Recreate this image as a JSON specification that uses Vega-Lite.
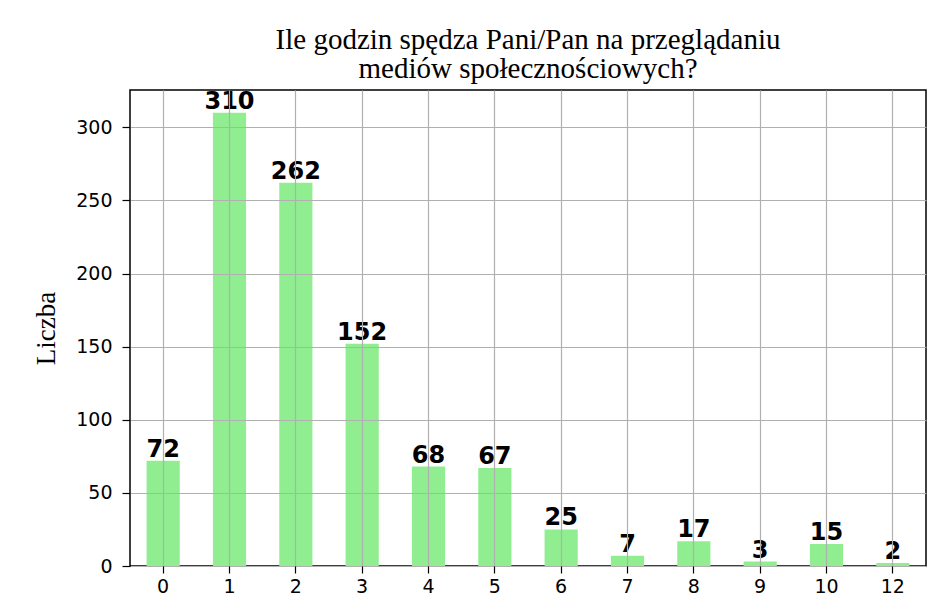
{
  "$schema": "https://vega.github.io/schema/vega-lite/v6.json",
  "width": 796,
  "height": 476,
  "autosize": "none",
  "padding": {"left": 130, "top": 90, "right": 11, "bottom": 44},
  "background": "white",
  "title": {
    "text": ["Ile godzin spędza Pani/Pan na przeglądaniu", "mediów społecznościowych?"],
    "font": "Liberation Serif",
    "fontSize": 29,
    "fontWeight": "normal",
    "color": "black",
    "lineHeight": 29,
    "anchor": "middle",
    "frame": "group",
    "offset": 6
  },
  "data": {
    "values": [
      {"h": "0", "n": 72, "o": 0},
      {"h": "1", "n": 310, "o": 1},
      {"h": "2", "n": 262, "o": 2},
      {"h": "3", "n": 152, "o": 3},
      {"h": "4", "n": 68, "o": 4},
      {"h": "5", "n": 67, "o": 5},
      {"h": "6", "n": 25, "o": 6},
      {"h": "7", "n": 7, "o": 7},
      {"h": "8", "n": 17, "o": 8},
      {"h": "9", "n": 3, "o": 9},
      {"h": "10", "n": 15, "o": 10},
      {"h": "12", "n": 2, "o": 12}
    ]
  },
  "encoding": {
    "x": {
      "field": "h",
      "type": "ordinal",
      "sort": {"field": "o"},
      "scale": {"paddingInner": 0.5, "paddingOuter": 0.25},
      "axis": {
        "title": null,
        "labelAngle": 0,
        "labelFont": "DejaVu Sans",
        "labelFontSize": 19,
        "labelColor": "black",
        "labelPadding": 4,
        "tickColor": "black",
        "tickSize": 7,
        "tickWidth": 1.2,
        "domain": false,
        "grid": true,
        "gridColor": "#b0b0b0",
        "gridWidth": 1.2,
        "zindex": 1
      }
    }
  },
  "layer": [
    {
      "mark": {"type": "bar", "color": "#90ee90"},
      "encoding": {
        "y": {
          "field": "n",
          "type": "quantitative",
          "scale": {"domain": [0, 325.5], "nice": false},
          "axis": {
            "title": "Liczba",
            "titleFont": "Liberation Serif",
            "titleFontSize": 27,
            "titleFontWeight": "normal",
            "titleColor": "black",
            "titlePadding": 15,
            "values": [0, 50, 100, 150, 200, 250, 300],
            "labelFont": "DejaVu Sans",
            "labelFontSize": 19,
            "labelColor": "black",
            "labelPadding": 10,
            "tickColor": "black",
            "tickSize": 8,
            "tickWidth": 1.2,
            "domain": false,
            "grid": true,
            "gridColor": "#b0b0b0",
            "gridWidth": 1.2,
            "zindex": 1
          }
        }
      }
    },
    {
      "mark": {"type": "text", "font": "DejaVu Sans", "fontSize": 24, "fontWeight": "bold", "color": "black", "baseline": "alphabetic", "dy": -4, "zindex": 2},
      "encoding": {
        "y": {"field": "n", "type": "quantitative"},
        "text": {"field": "n", "type": "quantitative"}
      }
    }
  ],
  "config": {
    "view": {"stroke": "black", "strokeWidth": 1.5}
  }
}
